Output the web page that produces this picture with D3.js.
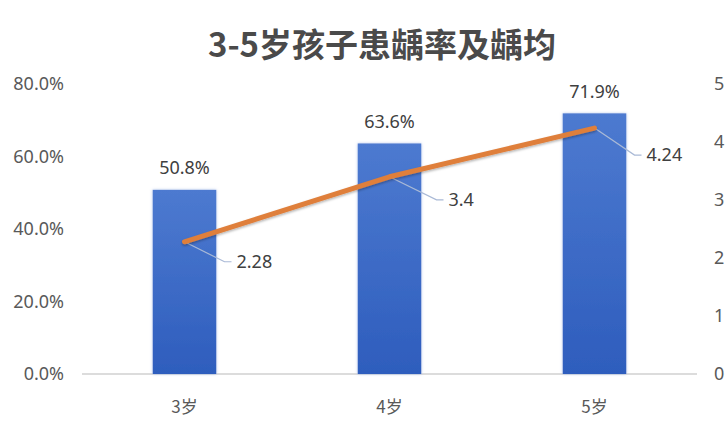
<!DOCTYPE html>
<html>
<head>
    <meta charset="utf-8">
    <script src="https://cdn.jsdelivr.net/npm/d3@7/dist/d3.min.js"></script>
    <style>
        body { margin: 0; background: white; }
        text { font-family: "Noto Sans CJK SC", "Noto Sans", sans-serif; }
    </style>
</head>
<body>
    <div id="chart"></div>
    <script>
        // Chart data
        const categories = ["3岁", "4岁", "5岁"];
        const rates = [0.508, 0.636, 0.719];          // 患龋率
        const dmft = [2.28, 3.4, 4.24];               // 龋均
        const leftTicks = [0, 0.2, 0.4, 0.6, 0.8];
        const rightTicks = [0, 1, 2, 3, 4, 5];

        const width = 728;
        const height = 425;
        const textColor = "#595959";
        const numFont = "'Noto Sans', sans-serif";

        const svg = d3.select("#chart")
            .append("svg")
            .attr("width", width)
            .attr("height", height);

        const x = d3.scaleBand()
            .domain(categories)
            .range([82, 697])
            .paddingInner(0.69)
            .paddingOuter(0.345);

        const yLeft = d3.scaleLinear().domain([0, 0.8]).range([374, 84]);
        const yRight = d3.scaleLinear().domain([0, 5]).range([374, 84]);

        // gradient + glow for bars
        const defs = svg.append("defs");
        const grad = defs.append("linearGradient")
            .attr("id", "barGrad")
            .attr("x1", "0%").attr("x2", "0%")
            .attr("y1", "0%").attr("y2", "100%");
        grad.append("stop").attr("offset", "0%").attr("stop-color", "#4d7ad0");
        grad.append("stop").attr("offset", "100%").attr("stop-color", "#2e5dbd");

        const glow = defs.append("filter").attr("id", "glow")
            .attr("x", "-20%").attr("y", "-20%").attr("width", "140%").attr("height", "140%");
        glow.append("feGaussianBlur").attr("in", "SourceAlpha").attr("stdDeviation", 1.5).attr("result", "b");
        glow.append("feFlood").attr("flood-color", "#9db6e6").attr("flood-opacity", 0.8);
        glow.append("feComposite").attr("in2", "b").attr("operator", "in");
        const m = glow.append("feMerge");
        m.append("feMergeNode");
        m.append("feMergeNode").attr("in", "SourceGraphic");

        const shadow = defs.append("filter").attr("id", "lineShadow")
            .attr("x", "-10%").attr("y", "-30%").attr("width", "120%").attr("height", "160%");
        shadow.append("feDropShadow").attr("dx", 0).attr("dy", 1.5)
            .attr("stdDeviation", 1.2).attr("flood-color", "#000").attr("flood-opacity", 0.3);

        // Title
        svg.append("text")
            .attr("x", 382)
            .attr("y", 57)
            .attr("text-anchor", "middle")
            .attr("font-size", 33)
            .attr("font-weight", "bold")
            .attr("fill", "#4a4a4a")
            .text("3-5岁孩子患龋率及龋均");

        // Left axis
        const leftAxis = svg.append("g")
            .attr("transform", "translate(64,0)")
            .call(d3.axisLeft(yLeft).tickValues(leftTicks).tickFormat(d3.format(".1%")).tickSize(0).tickPadding(0));
        leftAxis.select(".domain").remove();
        leftAxis.selectAll("text")
            .attr("font-size", 18).attr("fill", textColor)
            .style("font-family", numFont);

        // Right axis
        const rightAxis = svg.append("g")
            .attr("transform", "translate(714,0)")
            .call(d3.axisRight(yRight).tickValues(rightTicks).tickFormat(d3.format("d")).tickSize(0).tickPadding(0));
        rightAxis.select(".domain").remove();
        rightAxis.selectAll("text")
            .attr("font-size", 18).attr("fill", textColor)
            .style("font-family", numFont);

        // Baseline
        svg.append("line")
            .attr("x1", 82).attr("x2", 697)
            .attr("y1", yLeft(0)).attr("y2", yLeft(0))
            .attr("stroke", "#d0d0d0").attr("stroke-width", 1.5);

        // Category axis
        const xAxis = svg.append("g")
            .attr("transform", "translate(0,401)")
            .call(d3.axisBottom(x).tickSize(0).tickPadding(0));
        xAxis.select(".domain").remove();
        xAxis.selectAll("text")
            .attr("font-size", 17).attr("fill", textColor).attr("dy", "0.71em");

        // Bars
        svg.selectAll(".bar")
            .data(rates)
            .join("rect")
            .attr("class", "bar")
            .attr("x", (d, i) => x(categories[i]))
            .attr("width", x.bandwidth())
            .attr("y", d => yLeft(d))
            .attr("height", d => yLeft(0) - yLeft(d))
            .attr("fill", "url(#barGrad)")
            .attr("filter", "url(#glow)");

        // Bar labels
        svg.selectAll(".bar-label")
            .data(rates)
            .join("text")
            .attr("class", "bar-label")
            .attr("x", (d, i) => x(categories[i]) + x.bandwidth() / 2)
            .attr("y", d => yLeft(d) - 22)
            .attr("dy", "0.35em")
            .attr("text-anchor", "middle")
            .attr("font-size", 18)
            .attr("fill", "#404040")
            .style("font-family", numFont)
            .text(d => d3.format(".1%")(d));

        // Line
        const cx = (i) => x(categories[i]) + x.bandwidth() / 2;
        const line = d3.line()
            .x((d, i) => cx(i))
            .y(d => yRight(d));

        // Leader lines for line labels
        const leaderDx = [40, 47, 40];
        const leaderDy = [20, 23, 27];
        svg.selectAll(".leader")
            .data(dmft)
            .join("polyline")
            .attr("class", "leader")
            .attr("points", (d, i) => {
                const x0 = cx(i), y0 = yRight(d);
                const x1 = x0 + leaderDx[i], y1 = y0 + leaderDy[i];
                return `${x0},${y0} ${x1},${y1} ${x1 + 7},${y1}`;
            })
            .attr("fill", "none")
            .attr("stroke", "#a9b9d6")
            .attr("stroke-width", 1.2);

        svg.append("path")
            .datum(dmft)
            .attr("d", line)
            .attr("fill", "none")
            .attr("stroke", "#df7f3b")
            .attr("stroke-width", 5)
            .attr("stroke-linecap", "round")
            .attr("stroke-linejoin", "round")
            .attr("filter", "url(#lineShadow)");

        svg.selectAll(".line-label")
            .data(dmft)
            .join("text")
            .attr("class", "line-label")
            .attr("x", (d, i) => cx(i) + leaderDx[i] + 12)
            .attr("y", (d, i) => yRight(d) + leaderDy[i])
            .attr("dy", "0.35em")
            .attr("font-size", 18)
            .attr("fill", "#404040")
            .style("font-family", numFont)
            .text(d => d);
    </script>
</body>
</html>
